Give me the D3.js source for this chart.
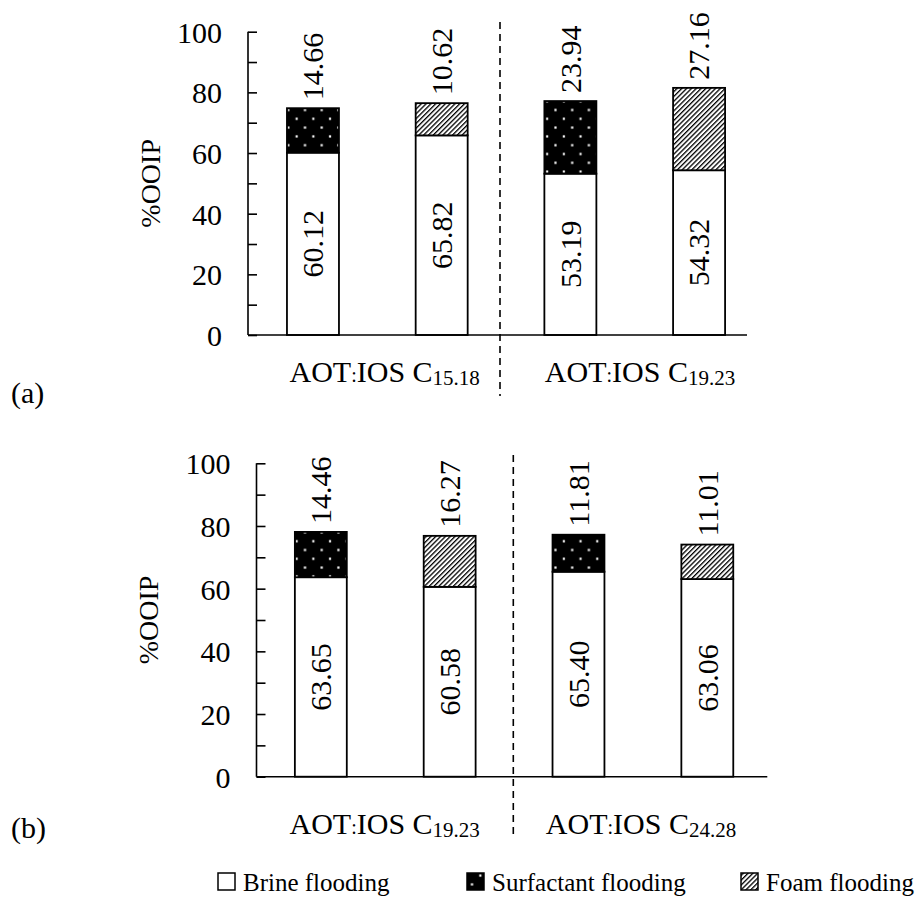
<!DOCTYPE html>
<html>
<head>
<meta charset="utf-8">
<script src="https://cdn.jsdelivr.net/npm/d3@7"></script>
<style>
  html, body { margin: 0; padding: 0; background: #fff; }
  svg { display: block; }
</style>
</head>
<body>
<svg id="chart" width="917" height="906"></svg>
<script>
// ---------------- DATA ----------------
const yTicks = [0, 20, 40, 60, 80, 100];
const yMinorTicks = [10, 30, 50, 70, 90];
const yTitle = "%OOIP";

// Panel (a)
const barsA = ["C15.18 surfactant", "C15.18 foam", "C19.23 surfactant", "C19.23 foam"];
const brineA = [60.12, 65.82, 53.19, 54.32];
const eorA = [14.66, 10.62, 23.94, 27.16];
const eorTypeA = ["Surfactant flooding", "Foam flooding", "Surfactant flooding", "Foam flooding"];
const groupSubsA = ["15.18", "19.23"];

// Panel (b)
const barsB = ["C19.23 surfactant", "C19.23 foam", "C24.28 surfactant", "C24.28 foam"];
const brineB = [63.65, 60.58, 65.40, 63.06];
const eorB = [14.46, 16.27, 11.81, 11.01];
const eorTypeB = ["Surfactant flooding", "Foam flooding", "Surfactant flooding", "Foam flooding"];
const groupSubsB = ["19.23", "24.28"];

const legendLabels = ["Brine flooding", "Surfactant flooding", "Foam flooding"];

// ---------------- SETUP ----------------
const FONT = '"Liberation Serif", "Times New Roman", Tinos, serif';
const svg = d3.select("#chart");
svg.append("rect").attr("width", 917).attr("height", 906).attr("fill", "#fff");

const defs = svg.append("defs");
// dotted black pattern (surfactant)
const pd = defs.append("pattern").attr("id", "dots").attr("patternUnits", "userSpaceOnUse")
  .attr("width", 16.7).attr("height", 17.6);
pd.append("rect").attr("width", 16.7).attr("height", 17.6).attr("fill", "#000");
pd.append("rect").attr("x", 3.3).attr("y", 3.3).attr("width", 2.2).attr("height", 2.2).attr("fill", "#fff");
pd.append("rect").attr("x", 11.65).attr("y", 12.1).attr("width", 2.2).attr("height", 2.2).attr("fill", "#fff");
// hatched pattern (foam)
const ph = defs.append("pattern").attr("id", "hatch").attr("patternUnits", "userSpaceOnUse")
  .attr("width", 3.4).attr("height", 10).attr("patternTransform", "rotate(45)");
ph.append("rect").attr("width", 3.4).attr("height", 10).attr("fill", "#fff");
ph.append("rect").attr("x", 0).attr("y", 0).attr("width", 1.3).attr("height", 10).attr("fill", "#000");

const fillFor = t => t === "Surfactant flooding" ? "url(#dots)" : t === "Foam flooding" ? "url(#hatch)" : "#fff";

function panel(cfg) {
  const g = svg.append("g");
  const x = d3.scaleBand().domain(cfg.bars).range([cfg.x0, cfg.x1])
    .paddingInner(cfg.padI).paddingOuter(cfg.padO).align(cfg.align);
  const y = d3.scaleLinear().domain([0, 100]).range([cfg.yBase, cfg.yTop]);

  const rows = cfg.bars.map((b, i) => ({ b, brine: cfg.brine[i], eor: cfg.eor[i], type: cfg.types[i] }));
  const bg = g.append("g");
  bg.selectAll("rect.brine").data(rows).join("rect").attr("class", "brine")
    .attr("x", d => x(d.b)).attr("width", x.bandwidth())
    .attr("y", d => y(d.brine)).attr("height", d => y(0) - y(d.brine))
    .attr("fill", "#fff").attr("stroke", "#000").attr("stroke-width", 1.8);
  bg.selectAll("rect.eor").data(rows).join("rect").attr("class", "eor")
    .attr("x", d => x(d.b)).attr("width", x.bandwidth())
    .attr("y", d => y(d.brine + d.eor)).attr("height", d => y(d.brine) - y(d.brine + d.eor))
    .attr("fill", d => fillFor(d.type)).attr("stroke", "#000").attr("stroke-width", 1.8);

  // inner labels (brine)
  bg.selectAll("text.inner").data(rows).join("text").attr("class", "inner")
    .attr("transform", d => `translate(${x(d.b) + x.bandwidth() / 2},${(y(0) + y(d.brine)) / 2}) rotate(-90)`)
    .attr("text-anchor", "middle").attr("dy", "0.34em")
    .style("font-family", FONT).style("font-size", "30px").attr("fill", "#000")
    .text(d => d.brine.toFixed(2));
  // top labels (increment)
  bg.selectAll("text.top").data(rows).join("text").attr("class", "top")
    .attr("transform", d => `translate(${x(d.b) + x.bandwidth() / 2},${y(d.brine + d.eor) - 8}) rotate(-90)`)
    .attr("text-anchor", "start").attr("dy", "0.34em")
    .style("font-family", FONT).style("font-size", "30px").attr("fill", "#000")
    .text(d => d.eor.toFixed(2));

  // y axis ticks (inward)
  const yAxis = d3.axisRight(y).tickValues(yTicks.concat(yMinorTicks)).tickSize(9).tickFormat("");
  const ya = g.append("g").attr("transform", `translate(${cfg.x0},0)`).call(yAxis);
  ya.select(".domain").remove();
  ya.selectAll("line").attr("stroke", "#000").attr("stroke-width", 1.6);
  g.append("line").attr("x1", cfg.x0).attr("x2", cfg.x0).attr("y1", y(100)).attr("y2", y(0))
    .attr("stroke", "#000").attr("stroke-width", 1.6);
  g.selectAll("text.ytl").data(yTicks).join("text").attr("class", "ytl")
    .attr("x", cfg.x0 - 26).attr("y", d => y(d) + 11).attr("text-anchor", "end")
    .style("font-family", FONT).style("font-size", "30px").attr("fill", "#000")
    .text(d => d);

  // x axis line
  g.append("line").attr("x1", cfg.x0).attr("x2", cfg.x1).attr("y1", y(0)).attr("y2", y(0))
    .attr("stroke", "#000").attr("stroke-width", 1.6);

  // y title
  g.append("text").attr("transform", `translate(${cfg.titleX},${(y(0) + y(100)) / 2}) rotate(-90)`)
    .attr("text-anchor", "middle")
    .style("font-family", FONT).style("font-size", "28px").attr("fill", "#000")
    .text(yTitle);

  // dashed separator
  g.append("line").attr("x1", cfg.dashX).attr("x2", cfg.dashX).attr("y1", cfg.dashY0).attr("y2", cfg.dashY1)
    .attr("stroke", "#000").attr("stroke-width", 1.6).attr("stroke-dasharray", "7,5");

  // group labels
  cfg.subs.forEach((s, i) => {
    const t = g.append("text").attr("x", cfg.labelX[i]).attr("y", cfg.labelY)
      .attr("text-anchor", "middle")
      .style("font-family", FONT).style("font-size", "30px").attr("fill", "#000");
    t.append("tspan").text("AOT");
    t.append("tspan").style("font-size", "20px").text(":");
    t.append("tspan").text("IOS C");
    t.append("tspan").style("font-size", "21px").attr("dy", 3).text(s);
  });

  // panel letter
  g.append("text").attr("x", 11).attr("y", cfg.letterY)
    .style("font-family", FONT).style("font-size", "30px").attr("fill", "#000")
    .text(cfg.letter);
}

panel({
  bars: barsA, brine: brineA, eor: eorA, types: eorTypeA, subs: groupSubsA,
  x0: 248, x1: 747, yTop: 31.7, yBase: 335, padI: 0.596, padO: 0.2365, align: 0.64,
  titleX: 160, dashX: 500, dashY0: 22, dashY1: 396, labelX: [384.7, 640], labelY: 382,
  letter: "(a)", letterY: 403
});
panel({
  bars: barsB, brine: brineB, eor: eorB, types: eorTypeB, subs: groupSubsB,
  x0: 256.5, x1: 767.3, yTop: 463.3, yBase: 776.7, padI: 0.597, padO: 0.281, align: 0.53,
  titleX: 158, dashX: 513.3, dashY0: 455, dashY1: 838, labelX: [384.7, 641], labelY: 834,
  letter: "(b)", letterY: 838
});

// ---------------- LEGEND ----------------
const legX = [218, 467, 741];
const legFills = ["#fff", "url(#dots)", "url(#hatch)"];
const lg = svg.append("g");
legendLabels.forEach((l, i) => {
  lg.append("rect").attr("x", legX[i]).attr("y", 873).attr("width", 17).attr("height", 17)
    .attr("fill", legFills[i]).attr("stroke", "#000").attr("stroke-width", 1.5);
  lg.append("text").attr("x", legX[i] + 25).attr("y", 891)
    .style("font-family", FONT).style("font-size", "25px").attr("fill", "#000")
    .text(l);
});
</script>
</body>
</html>
